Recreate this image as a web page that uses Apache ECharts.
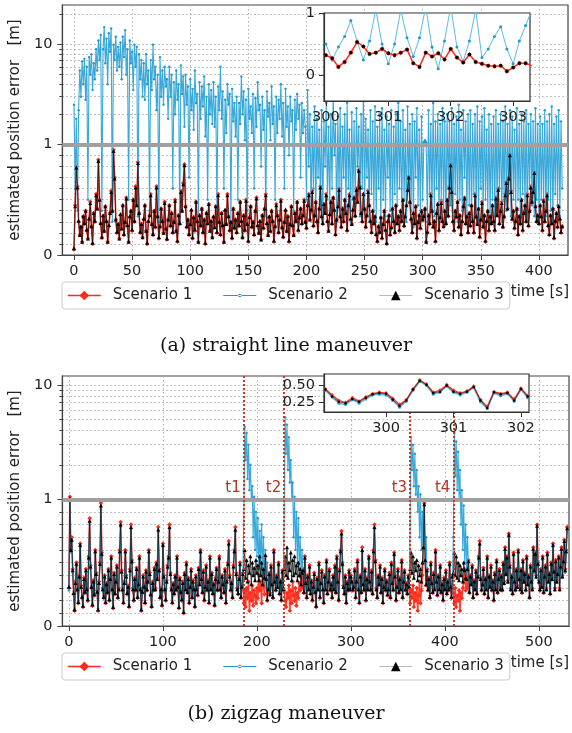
<!DOCTYPE html>
<html><head><meta charset="utf-8">
<script src="https://cdn.jsdelivr.net/npm/echarts@6/dist/echarts.min.js"></script>
<style>html,body{margin:0;padding:0;background:#fff}#c{width:572px;height:733px}</style>
</head><body><div id="c"></div>
<script>
// ---------------- data ----------------
const seriesNames = ['Scenario 1', 'Scenario 2', 'Scenario 3'];

// (a) straight line maneuver, one value per second from t = 0
const topStart = 0, topStep = 1;
const topS1 = [
0.05,0.45,0.80,0.62,0.30,0.18,0.25,0.12,0.35,0.28,0.40,0.22,0.15,0.32,0.48,0.26,0.10,0.38,0.30,0.55,
0.42,0.86,0.50,0.28,0.16,0.35,0.22,0.44,0.30,0.12,0.26,0.38,0.58,0.40,0.95,0.70,0.32,0.20,0.28,0.15,
0.36,0.24,0.45,0.18,0.30,0.52,0.26,0.12,0.34,0.40,0.22,0.50,0.30,0.62,0.45,0.84,0.38,0.20,0.28,0.16,
0.32,0.45,0.22,0.10,0.30,0.36,0.55,0.28,0.18,0.40,0.25,0.62,0.35,0.15,0.26,0.42,0.30,0.20,0.48,0.24,
0.14,0.32,0.45,0.26,0.38,0.20,0.30,0.50,0.22,0.12,0.36,0.28,0.58,0.40,0.65,0.82,0.44,0.25,0.32,0.18,
0.28,0.40,0.15,0.34,0.22,0.48,0.30,0.12,0.36,0.26,0.42,0.20,0.32,0.10,0.38,0.28,0.46,0.22,0.30,0.16,
0.34,0.25,0.44,0.20,0.55,0.30,0.18,0.38,0.26,0.12,0.40,0.28,0.55,0.35,0.22,0.30,0.15,0.42,0.24,0.32,
0.20,0.38,0.26,0.48,0.30,0.16,0.36,0.22,0.50,0.28,0.12,0.34,0.44,0.25,0.30,0.18,0.40,0.52,0.26,0.20,
0.30,0.14,0.36,0.24,0.42,0.55,0.28,0.18,0.34,0.22,0.40,0.30,0.12,0.26,0.46,0.36,0.20,0.32,0.50,0.25,
0.16,0.30,0.40,0.22,0.35,0.12,0.28,0.44,0.26,0.18,0.38,0.30,0.48,0.22,0.34,0.42,0.28,0.36,0.50,0.30,
0.24,0.45,0.55,0.32,0.40,0.58,0.26,0.36,0.48,0.30,0.20,0.42,0.62,0.35,0.28,0.46,0.38,0.55,0.30,0.22,
0.36,0.48,0.28,0.52,0.40,0.18,0.32,0.44,0.60,0.35,0.25,0.42,0.30,0.50,0.38,0.22,0.45,0.55,0.32,0.28,
0.40,0.52,0.35,0.60,0.48,0.77,0.62,0.38,0.30,0.55,0.42,0.25,0.36,0.58,0.45,0.30,0.20,0.40,0.28,0.35,
0.18,0.12,0.26,0.20,0.34,0.15,0.28,0.40,0.22,0.10,0.30,0.36,0.18,0.25,0.42,0.30,0.20,0.45,0.28,0.35,
0.22,0.40,0.30,0.50,0.26,0.35,0.45,0.60,0.71,0.48,0.32,0.20,0.38,0.28,0.44,0.15,0.30,0.36,0.24,0.40,
0.32,0.35,0.42,0.12,0.20,0.36,0.28,0.55,0.40,0.25,0.30,0.12,0.38,0.46,0.22,0.34,0.48,0.30,0.26,0.40,
0.28,0.50,0.35,0.62,0.82,0.58,0.30,0.22,0.40,0.34,0.48,0.25,0.36,0.18,0.30,0.44,0.52,0.28,0.35,0.20,
0.38,0.26,0.45,0.30,0.20,0.55,0.34,0.28,0.42,0.16,0.32,0.48,0.25,0.36,0.12,0.30,0.40,0.22,0.35,0.28,
0.45,0.30,0.22,0.52,0.36,0.60,0.28,0.40,0.48,0.25,0.35,0.55,0.66,0.42,0.70,0.91,0.58,0.32,0.40,0.24,
0.30,0.42,0.18,0.35,0.28,0.50,0.22,0.38,0.45,0.30,0.55,0.26,0.40,0.62,0.48,0.58,0.75,0.44,0.30,0.36,
0.28,0.45,0.35,0.22,0.50,0.30,0.40,0.55,0.26,0.18,0.36,0.28,0.42,0.15,0.30,0.38,0.25,0.44,0.32,0.20,
0.26];
const topS2 = [
2.5,0.6,1.8,0.4,2.2,5.5,3.0,6.8,4.0,7.2,2.8,6.0,0.5,7.5,5.0,8.0,3.5,6.5,4.5,9.0,
5.5,11.0,7.0,12.5,0.4,9.0,15.0,6.5,11.5,4.0,13.0,8.5,14.5,0.3,10.0,7.0,12.0,5.5,9.5,6.0,
10.5,4.5,12.0,7.5,14.0,5.0,9.0,0.5,11.0,6.5,8.5,3.5,10.0,6.0,9.5,0.35,8.0,4.5,7.0,3.0,
6.5,2.8,8.0,4.0,5.5,0.4,7.0,3.5,10.0,4.5,6.0,2.2,5.0,0.3,7.5,3.0,5.5,2.5,6.0,3.8,
4.5,1.8,6.0,3.0,5.0,0.6,4.2,2.0,5.5,2.8,4.0,0.3,6.2,3.2,4.8,1.5,5.0,2.5,3.8,0.7,
4.5,2.2,3.6,1.4,5.5,2.6,3.2,0.35,4.2,1.8,3.8,2.4,4.8,1.2,3.0,0.5,4.0,2.0,3.5,1.6,
4.2,1.5,3.0,0.4,3.8,2.2,6.0,1.8,3.4,0.6,2.8,1.3,4.0,2.5,3.2,0.3,3.6,1.7,2.6,1.2,
3.0,0.5,2.6,1.6,4.8,2.0,3.4,1.1,2.8,0.4,3.6,1.8,2.4,1.3,3.2,0.6,2.9,1.5,4.2,2.2,
2.5,0.8,3.0,1.4,2.2,0.35,3.4,1.9,2.6,1.1,3.8,1.6,2.4,0.5,3.0,1.3,2.8,1.8,4.0,1.2,
2.6,0.6,3.6,1.5,2.4,0.9,3.0,1.7,2.2,0.4,2.8,1.4,3.2,1.8,2.5,0.7,2.6,1.3,2.2,1.5,
0.5,3.5,0.8,2.0,0.4,1.5,0.6,2.4,0.35,1.8,0.7,1.4,0.45,2.2,0.3,1.7,0.8,2.6,0.5,1.5,
0.4,2.0,0.6,3.2,0.9,1.6,0.3,1.9,0.55,2.3,0.35,1.5,0.7,2.0,0.4,2.6,0.6,1.4,0.3,2.1,
0.5,1.7,0.45,2.3,0.8,1.5,0.35,2.0,0.6,3.5,0.4,1.8,0.7,1.4,0.3,2.2,0.55,1.7,0.4,2.4,
0.3,1.5,0.6,2.0,0.25,2.3,0.5,1.4,0.35,1.9,0.7,1.6,0.4,2.2,0.3,1.5,0.55,2.0,0.45,2.6,
0.6,1.7,0.35,2.2,0.5,1.4,0.3,2.4,0.6,1.6,0.4,2.0,0.25,1.7,0.7,2.3,0.45,1.4,0.35,1.9,
0.5,1.05,1.1,1.05,0.3,2.2,0.55,1.6,0.4,2.6,0.35,1.7,0.6,2.0,0.3,1.6,0.5,2.3,0.4,1.7,
0.3,2.0,0.6,1.7,0.45,2.3,0.35,1.6,0.55,1.9,0.3,2.5,0.5,1.4,0.4,2.2,0.7,1.7,0.35,2.0,
0.45,2.2,0.3,1.6,0.55,2.0,0.4,2.4,0.3,1.7,0.6,1.9,0.35,2.3,0.5,1.4,0.4,2.0,0.3,1.6,
0.5,1.9,0.35,2.2,0.45,1.6,0.6,2.0,0.3,1.7,0.5,2.4,0.4,1.6,0.55,2.2,0.35,1.9,0.5,1.4,
0.4,2.3,0.5,1.6,0.35,2.0,0.55,1.7,0.4,2.2,0.3,1.6,0.6,2.0,0.45,1.7,0.35,2.3,0.5,1.6,
0.3,1.9,0.5,1.6,0.45,2.2,0.35,1.7,0.5,2.0,0.4,2.4,0.3,1.6,0.55,1.9,0.45,2.2,0.35,1.7,
0.6];
const topS3 = [
0.06,0.44,0.79,0.61,0.31,0.18,0.26,0.12,0.35,0.29,0.40,0.23,0.15,0.33,0.47,0.26,0.11,0.38,0.31,0.54,
0.42,0.85,0.50,0.29,0.16,0.36,0.22,0.44,0.31,0.12,0.27,0.38,0.57,0.40,0.94,0.69,0.32,0.21,0.28,0.15,
0.37,0.24,0.45,0.19,0.30,0.51,0.27,0.12,0.35,0.40,0.23,0.50,0.31,0.61,0.45,0.83,0.38,0.21,0.28,0.16,
0.33,0.45,0.22,0.11,0.31,0.36,0.54,0.28,0.19,0.40,0.26,0.61,0.35,0.16,0.26,0.42,0.31,0.20,0.47,0.24,
0.15,0.32,0.45,0.27,0.38,0.21,0.30,0.49,0.22,0.13,0.36,0.29,0.57,0.40,0.64,0.81,0.44,0.26,0.32,0.19,
0.28,0.41,0.16,0.34,0.23,0.48,0.31,0.12,0.36,0.27,0.42,0.21,0.32,0.11,0.38,0.29,0.46,0.22,0.31,0.16,
0.35,0.25,0.44,0.21,0.54,0.30,0.19,0.38,0.27,0.12,0.41,0.28,0.54,0.35,0.23,0.30,0.16,0.42,0.25,0.32,
0.21,0.38,0.27,0.48,0.31,0.16,0.36,0.23,0.49,0.28,0.13,0.34,0.44,0.26,0.30,0.19,0.40,0.51,0.27,0.20,
0.31,0.14,0.36,0.25,0.42,0.54,0.29,0.18,0.35,0.22,0.40,0.31,0.13,0.26,0.45,0.36,0.21,0.32,0.49,0.25,
0.17,0.30,0.41,0.22,0.35,0.13,0.28,0.44,0.27,0.18,0.38,0.31,0.48,0.23,0.34,0.42,0.29,0.36,0.49,0.30,
0.25,0.45,0.54,0.32,0.41,0.57,0.27,0.36,0.48,0.31,0.21,0.42,0.61,0.35,0.29,0.46,0.38,0.54,0.31,0.22,
0.37,0.48,0.29,0.52,0.41,0.19,0.32,0.44,0.59,0.35,0.26,0.42,0.31,0.50,0.38,0.23,0.45,0.54,0.33,0.28,
0.41,0.52,0.36,0.59,0.48,0.76,0.61,0.38,0.31,0.55,0.42,0.26,0.36,0.57,0.45,0.31,0.21,0.40,0.29,0.35,
0.19,0.13,0.26,0.21,0.34,0.16,0.28,0.40,0.23,0.11,0.31,0.36,0.19,0.25,0.42,0.31,0.21,0.45,0.29,0.35,
0.23,0.40,0.31,0.50,0.27,0.35,0.45,0.59,0.70,0.48,0.33,0.21,0.38,0.29,0.44,0.16,0.30,0.36,0.25,0.40,
0.32,0.35,0.42,0.12,0.21,0.36,0.29,0.54,0.40,0.26,0.31,0.13,0.38,0.46,0.23,0.34,0.47,0.31,0.26,0.40,
0.29,0.50,0.36,0.61,0.81,0.57,0.31,0.23,0.40,0.35,0.48,0.26,0.36,0.19,0.31,0.44,0.51,0.29,0.35,0.21,
0.38,0.27,0.45,0.31,0.21,0.54,0.35,0.28,0.42,0.17,0.32,0.47,0.26,0.36,0.13,0.31,0.40,0.23,0.35,0.29,
0.45,0.31,0.23,0.51,0.36,0.59,0.29,0.40,0.47,0.26,0.35,0.54,0.65,0.42,0.69,0.90,0.57,0.33,0.40,0.25,
0.31,0.42,0.19,0.35,0.29,0.50,0.23,0.38,0.45,0.31,0.54,0.27,0.40,0.61,0.48,0.57,0.74,0.44,0.31,0.36,
0.29,0.45,0.35,0.23,0.49,0.31,0.40,0.54,0.27,0.19,0.36,0.29,0.42,0.16,0.31,0.38,0.26,0.44,0.33,0.21,
0.26];

// inset of (a): t = 300.0 ... 303.3, every 0.1 s
const topInsetStart = 300.0, topInsetStep = 0.1;
const topInsetS1 = [0.32,0.27,0.13,0.21,0.36,0.53,0.46,0.34,0.36,0.42,0.35,0.32,0.36,0.41,0.19,0.13,0.36,
0.30,0.35,0.25,0.42,0.28,0.20,0.33,0.21,0.18,0.15,0.14,0.15,0.06,0.12,0.19,0.19,0.15];
const topInsetS2 = [0.50,0.24,0.45,0.62,0.88,0.55,0.24,0.55,1.05,0.50,0.18,0.50,1.05,0.60,0.30,0.60,1.10,
0.45,0.10,0.55,1.10,0.45,0.22,0.55,1.05,0.28,0.42,0.62,0.78,0.42,0.18,0.55,0.80,1.05];
const topInsetS3 = [0.32,0.27,0.13,0.21,0.36,0.53,0.46,0.34,0.36,0.42,0.35,0.32,0.36,0.41,0.19,0.13,0.36,
0.30,0.35,0.25,0.42,0.28,0.20,0.33,0.21,0.18,0.15,0.14,0.15,0.06,0.12,0.19,0.19,0.15];

// (b) zigzag maneuver, one value per second from t = 0
const botStart = 0, botStep = 1;
const botS1 = [
0.30,1.05,0.62,0.70,0.45,0.25,0.12,0.35,0.50,0.28,0.18,0.40,0.65,0.32,0.22,0.15,0.38,0.26,0.45,0.30,
0.20,0.55,0.85,0.48,0.30,0.16,0.36,0.24,0.60,0.42,0.28,0.12,0.35,0.50,0.97,0.58,0.30,0.22,0.40,0.18,
0.34,0.26,0.45,0.20,0.38,0.55,0.30,0.14,0.42,0.25,0.36,0.48,0.22,0.30,0.60,0.82,0.44,0.28,0.18,0.35,
0.60,0.40,0.25,0.32,0.15,0.45,0.80,0.52,0.30,0.20,0.38,0.28,0.46,0.22,0.34,0.55,0.30,0.12,0.26,0.40,
0.32,0.18,0.44,0.28,0.36,0.60,0.42,0.24,0.15,0.35,0.28,0.46,0.30,0.50,0.38,0.78,0.45,0.22,0.30,0.16,
0.65,0.40,0.28,0.20,0.36,0.48,0.55,0.80,0.42,0.30,0.18,0.34,0.25,0.40,0.28,0.55,0.32,0.14,0.38,0.26,
0.20,0.35,0.10,0.42,0.30,0.50,0.26,0.38,0.18,0.32,0.45,0.22,0.36,0.28,0.15,0.40,0.30,0.24,0.46,0.34,
0.60,0.38,0.26,0.44,0.20,0.32,0.48,0.28,0.36,0.18,0.55,0.30,0.42,0.25,0.34,0.16,0.38,0.46,0.28,0.36,
0.55,0.30,0.22,0.40,0.34,0.26,0.45,0.18,0.36,0.50,0.67,0.40,0.28,0.35,0.22,0.48,0.60,0.78,0.42,0.30,
0.25,0.38,0.50,0.22,0.32,0.42,0.18,0.28,0.15,0.30,0.22,0.35,0.12,0.26,0.20,0.32,0.16,0.28,0.24,0.18,
0.30,0.22,0.40,0.28,0.35,0.18,0.45,0.32,0.25,0.55,0.38,0.20,0.30,0.42,0.26,0.48,0.34,0.22,0.60,0.36,
0.28,0.40,0.32,0.50,0.25,0.36,0.20,0.44,0.30,0.28,0.20,0.15,0.26,0.22,0.32,0.12,0.28,0.18,0.35,0.24,
0.20,0.30,0.16,0.26,0.22,0.34,0.28,0.38,0.30,0.45,0.26,0.55,0.35,0.22,0.40,0.30,0.48,0.25,0.36,0.20,
0.32,0.42,0.26,0.15,0.38,0.30,0.50,0.22,0.35,0.44,0.28,0.18,0.40,0.30,0.52,0.25,0.36,0.45,0.28,0.34,
0.22,0.40,0.30,0.48,0.26,0.55,0.36,0.20,0.45,0.60,0.75,0.50,0.32,0.25,0.40,0.18,0.35,0.28,0.44,0.30,
0.40,0.35,0.28,0.32,0.45,0.22,0.36,0.52,0.30,0.18,0.40,0.26,0.62,0.34,0.28,0.45,0.20,0.38,0.30,0.55,
0.36,0.28,0.44,0.25,0.60,0.80,0.52,0.30,0.22,0.40,0.34,0.48,0.26,0.38,0.18,0.32,0.45,0.28,0.36,0.24,
0.30,0.42,0.22,0.50,0.35,0.28,0.58,0.40,0.20,0.32,0.45,0.26,0.38,0.30,0.52,0.22,0.36,0.44,0.28,0.34,
0.25,0.40,0.30,0.18,0.28,0.22,0.32,0.15,0.26,0.20,0.30,0.12,0.24,0.35,0.18,0.28,0.40,0.60,0.97,0.50,
0.32,0.45,0.28,0.38,0.22,0.50,0.35,0.26,0.42,0.30,0.60,0.36,0.24,0.40,0.30,0.48,0.26,0.34,0.20,0.38,
0.30,0.44,0.25,0.36,0.28,0.50,0.32,0.22,0.40,0.26,0.18,0.30,0.15,0.24,0.20,0.28,0.12,0.26,0.22,0.30,
0.35,0.45,0.28,0.38,0.30,0.52,0.26,0.40,0.34,0.48,0.22,0.36,0.30,0.44,0.25,0.40,0.55,0.67,0.38,0.28,
0.34,0.46,0.25,0.38,0.30,0.55,0.22,0.40,0.32,0.48,0.28,0.36,0.20,0.42,0.30,0.52,0.26,0.38,0.45,0.30,
0.40,0.28,0.50,0.35,0.62,0.42,0.55,0.36,0.73,0.48,0.30,0.40,0.25,0.58,0.36,0.28,0.45,0.32,0.60,0.38,
0.30,0.45,0.26,0.52,0.36,0.42,0.28,0.55,0.34,0.40,0.22,0.48,0.36,0.30,0.62,0.45,0.58,0.40,0.80,0.50,
0.36,0.28,0.45,0.32,0.55,0.26,0.40,0.48,0.30,0.58,0.36,0.42,0.25,0.50,0.38,0.65,0.44,0.30,0.52,0.36,
0.42,0.55,0.30,0.48,0.62,0.40,0.52,0.68,0.45,0.60,0.78];
const botS2 = [
0.28,1.00,0.58,0.66,0.42,0.27,0.14,0.33,0.47,0.30,0.20,0.37,0.62,0.30,0.24,0.17,0.36,0.28,0.42,0.27,
0.22,0.52,0.80,0.45,0.32,0.18,0.34,0.26,0.57,0.40,0.26,0.14,0.33,0.48,0.92,0.55,0.28,0.24,0.37,0.20,
0.32,0.28,0.42,0.22,0.36,0.52,0.28,0.16,0.40,0.27,0.34,0.45,0.24,0.28,0.57,0.78,0.42,0.30,0.20,0.33,
0.57,0.38,0.27,0.30,0.17,0.42,0.76,0.50,0.28,0.22,0.36,0.30,0.44,0.24,0.32,0.52,0.28,0.14,0.28,0.38,
0.30,0.20,0.42,0.30,0.34,0.57,0.40,0.26,0.17,0.33,0.30,0.44,0.28,0.47,0.36,0.74,0.42,0.24,0.28,0.18,
0.62,0.38,0.30,0.22,0.34,0.45,0.52,0.76,0.40,0.28,0.20,0.32,0.27,0.38,0.30,0.52,0.30,0.16,0.36,0.28,
0.22,0.33,0.12,0.40,0.28,0.47,0.28,0.36,0.20,0.30,0.42,0.24,0.34,0.30,0.17,0.38,0.28,0.26,0.44,0.32,
0.57,0.36,0.28,0.42,0.22,0.30,0.45,0.30,0.34,0.20,0.52,0.28,0.40,0.27,0.32,0.18,0.36,0.44,0.30,0.34,
0.52,0.28,0.24,0.38,0.32,0.28,0.42,0.20,0.34,0.47,0.63,0.38,0.30,0.33,0.24,0.45,0.57,0.74,0.40,0.28,
0.27,0.36,0.47,0.24,0.30,0.40,0.80,4.30,2.20,3.80,1.50,3.00,1.20,2.00,1.00,1.30,0.70,1.05,0.60,0.90,
0.55,0.85,0.45,0.75,0.50,0.80,0.40,0.70,0.35,0.60,0.30,0.50,0.28,0.40,0.24,0.45,0.32,0.24,0.57,0.34,
0.30,0.38,0.30,0.47,0.27,0.34,0.22,0.42,0.28,0.90,5.20,2.50,4.50,1.80,3.50,1.40,2.20,1.00,1.40,0.70,
1.05,0.60,0.90,0.50,0.85,0.45,0.70,0.40,0.60,0.42,0.28,0.52,0.33,0.24,0.38,0.28,0.45,0.27,0.34,0.22,
0.30,0.40,0.28,0.17,0.36,0.28,0.47,0.24,0.33,0.42,0.30,0.20,0.38,0.28,0.50,0.27,0.34,0.42,0.30,0.32,
0.24,0.38,0.28,0.45,0.28,0.52,0.34,0.22,0.42,0.57,0.70,0.47,0.30,0.27,0.38,0.20,0.33,0.30,0.42,0.28,
0.38,0.33,0.30,0.30,0.42,0.24,0.34,0.50,0.28,0.20,0.38,0.28,0.58,0.32,0.30,0.42,0.22,0.36,0.28,0.52,
0.34,0.30,0.42,0.27,0.57,0.76,0.50,0.28,0.24,0.38,0.32,0.45,0.28,0.36,0.20,0.30,0.42,0.30,0.34,0.26,
0.28,0.40,0.24,0.47,0.33,0.30,0.55,0.38,0.22,0.30,0.42,0.28,0.36,0.28,0.50,0.24,0.34,0.42,0.30,0.32,
0.27,0.38,0.32,0.80,3.50,1.80,3.00,1.30,2.50,1.10,1.80,0.90,1.30,0.70,1.10,0.60,0.90,0.50,0.95,0.50,
0.70,0.42,0.30,0.36,0.24,0.47,0.33,0.28,0.40,0.28,0.57,0.34,0.26,0.38,0.28,0.45,0.28,0.32,0.22,0.36,
0.28,0.42,0.27,0.34,0.30,0.47,0.30,0.24,0.38,0.70,3.80,1.60,3.20,1.20,2.60,1.00,1.80,0.80,1.20,0.60,
0.95,0.50,0.80,0.45,0.70,0.50,0.28,0.38,0.32,0.45,0.24,0.34,0.28,0.42,0.27,0.38,0.52,0.63,0.36,0.30,
0.32,0.44,0.27,0.36,0.28,0.52,0.24,0.38,0.30,0.45,0.30,0.34,0.22,0.40,0.28,0.50,0.28,0.36,0.42,0.28,
0.38,0.30,0.47,0.33,0.58,0.40,0.52,0.34,0.70,0.45,0.28,0.38,0.27,0.55,0.34,0.30,0.42,0.30,0.57,0.36,
0.28,0.42,0.28,0.50,0.34,0.40,0.30,0.52,0.32,0.38,0.24,0.45,0.34,0.28,0.58,0.42,0.55,0.38,0.76,0.47,
0.34,0.30,0.42,0.30,0.52,0.28,0.38,0.45,0.28,0.55,0.34,0.40,0.27,0.47,0.36,0.62,0.42,0.28,0.50,0.34,
0.40,0.52,0.28,0.45,0.58,0.38,0.50,0.64,0.42,0.57,0.74];
const botS3 = [
0.31,1.02,0.60,0.68,0.44,0.26,0.13,0.34,0.49,0.29,0.19,0.39,0.64,0.31,0.23,0.16,0.37,0.27,0.44,0.29,
0.21,0.54,0.83,0.47,0.31,0.17,0.35,0.25,0.59,0.41,0.27,0.13,0.34,0.49,0.95,0.57,0.29,0.23,0.39,0.19,
0.33,0.27,0.44,0.21,0.37,0.54,0.29,0.15,0.41,0.26,0.35,0.47,0.23,0.29,0.59,0.80,0.43,0.29,0.19,0.34,
0.59,0.39,0.26,0.31,0.16,0.44,0.78,0.51,0.29,0.21,0.37,0.29,0.45,0.23,0.33,0.54,0.29,0.13,0.27,0.39,
0.31,0.19,0.43,0.29,0.35,0.59,0.41,0.25,0.16,0.34,0.29,0.45,0.29,0.49,0.37,0.76,0.44,0.23,0.29,0.17,
0.64,0.39,0.29,0.21,0.35,0.47,0.54,0.78,0.41,0.29,0.19,0.33,0.26,0.39,0.29,0.54,0.31,0.15,0.37,0.27,
0.21,0.34,0.11,0.41,0.29,0.49,0.27,0.37,0.19,0.31,0.44,0.23,0.35,0.29,0.16,0.39,0.29,0.25,0.45,0.33,
0.59,0.37,0.27,0.43,0.21,0.31,0.47,0.29,0.35,0.19,0.54,0.29,0.41,0.26,0.33,0.17,0.37,0.45,0.29,0.35,
0.54,0.29,0.23,0.39,0.33,0.27,0.44,0.19,0.35,0.49,0.65,0.39,0.29,0.34,0.23,0.47,0.59,0.76,0.41,0.29,
0.26,0.37,0.49,0.23,0.31,0.41,0.45,0.60,0.38,0.52,0.35,0.48,0.42,0.55,0.33,0.50,0.40,0.46,0.36,0.52,
0.42,0.48,0.36,0.55,0.40,0.50,0.33,0.45,0.38,0.56,0.37,0.21,0.29,0.41,0.25,0.47,0.33,0.23,0.59,0.35,
0.29,0.39,0.31,0.49,0.26,0.35,0.21,0.43,0.29,0.45,0.55,0.40,0.62,0.38,0.50,0.44,0.58,0.36,0.52,0.40,
0.55,0.42,0.48,0.36,0.50,0.40,0.45,0.33,0.42,0.44,0.27,0.54,0.34,0.23,0.39,0.29,0.47,0.26,0.35,0.21,
0.31,0.41,0.27,0.16,0.37,0.29,0.49,0.23,0.34,0.43,0.29,0.19,0.39,0.29,0.51,0.26,0.35,0.44,0.29,0.33,
0.23,0.39,0.29,0.47,0.27,0.54,0.35,0.21,0.44,0.59,0.73,0.49,0.31,0.26,0.39,0.19,0.34,0.29,0.43,0.29,
0.39,0.35,0.29,0.31,0.44,0.23,0.35,0.51,0.29,0.19,0.39,0.27,0.60,0.33,0.29,0.44,0.21,0.37,0.29,0.54,
0.35,0.29,0.43,0.26,0.59,0.78,0.51,0.29,0.23,0.39,0.33,0.47,0.27,0.37,0.19,0.31,0.44,0.29,0.35,0.25,
0.29,0.41,0.23,0.49,0.34,0.29,0.57,0.39,0.21,0.31,0.44,0.27,0.37,0.29,0.51,0.23,0.35,0.43,0.29,0.33,
0.26,0.39,0.31,0.45,0.58,0.42,0.55,0.38,0.50,0.44,0.52,0.36,0.48,0.40,0.45,0.35,0.50,0.62,0.96,0.52,
0.33,0.44,0.29,0.37,0.23,0.49,0.34,0.27,0.41,0.29,0.59,0.35,0.25,0.39,0.29,0.47,0.27,0.33,0.21,0.37,
0.29,0.43,0.26,0.35,0.29,0.49,0.31,0.23,0.39,0.42,0.58,0.40,0.55,0.38,0.50,0.36,0.48,0.40,0.45,0.35,
0.50,0.44,0.38,0.37,0.45,0.51,0.27,0.39,0.33,0.47,0.23,0.35,0.29,0.43,0.26,0.39,0.54,0.65,0.37,0.29,
0.33,0.45,0.26,0.37,0.29,0.54,0.23,0.39,0.31,0.47,0.29,0.35,0.21,0.41,0.29,0.51,0.27,0.37,0.44,0.29,
0.39,0.29,0.49,0.34,0.61,0.41,0.54,0.35,0.72,0.47,0.29,0.39,0.26,0.57,0.35,0.29,0.44,0.31,0.59,0.37,
0.29,0.44,0.27,0.51,0.35,0.41,0.29,0.54,0.33,0.39,0.23,0.47,0.35,0.29,0.61,0.44,0.57,0.39,0.79,0.49,
0.35,0.29,0.44,0.31,0.54,0.27,0.39,0.47,0.29,0.57,0.35,0.41,0.26,0.49,0.37,0.64,0.43,0.29,0.51,0.35,
0.41,0.54,0.29,0.47,0.61,0.39,0.51,0.67,0.44,0.59,0.77];

// inset of (b): t = 299.1 ... 302.1, every 0.1 s
const botInsetStart = 299.1, botInsetStep = 0.1;
const botInsetS1 = [0.44,0.35,0.27,0.24,0.31,0.26,0.32,0.37,0.39,0.38,0.30,0.21,0.28,0.44,0.57,0.51,
0.39,0.42,0.50,0.42,0.38,0.41,0.48,0.28,0.18,0.40,0.37,0.39,0.29,0.45,0.34];
const botInsetS2 = [0.42,0.32,0.23,0.21,0.28,0.23,0.29,0.35,0.36,0.35,0.27,0.17,0.26,0.42,0.55,0.49,
0.36,0.39,0.48,0.39,0.35,0.39,0.46,0.25,0.15,0.38,0.34,0.37,0.26,0.43,0.31];
const botInsetS3 = [0.43,0.33,0.25,0.23,0.29,0.25,0.31,0.36,0.38,0.37,0.28,0.19,0.27,0.43,0.56,0.50,
0.38,0.40,0.49,0.40,0.37,0.40,0.47,0.27,0.16,0.39,0.36,0.38,0.27,0.44,0.33];

// events in (b)
const eventTimes = [186, 229, 363, 409];
const eventLabels = ['t1', 't2', 't3', 't4'];

// tick values
const topXTicks = [0, 50, 100, 150, 200, 250, 300, 350, 400];
const botXTicks = [0, 100, 200, 300, 400, 500];
const yMajor = [0, 1, 10];
const yMinorTop = [0.1,0.2,0.3,0.4,0.5,0.6,0.7,0.8,0.9,2,3,4,5,6,7,8,9,20];
const yMinorBot = [0.1,0.2,0.3,0.4,0.5,0.6,0.7,0.8,0.9,2,3,4,5,6,7,8,9];
const topInsetXTicks = [300, 301, 302, 303];
const topInsetYTicks = [0, 1];
const botInsetXTicks = [300, 301, 302];
const botInsetYTicks = [0.25, 0.50];

// ---------------- scale: symmetric-log (linear below 1, log above) ----------------
const LINSCALE = 1 / (1 - 1 / 10);
function T(v) { return v <= 1 ? v * LINSCALE : LINSCALE + Math.log10(v); }
const pts = (arr, t0, step, f) => arr.map((v, i) => [+(t0 + i * step).toFixed(3), f ? f(v) : v]);
const yLabel = v => { const m = yMajor.find(m => Math.abs(T(m) - v) < 1e-6); return m === undefined ? '' : String(m); };

// ---------------- styles ----------------
const FONT = 'DejaVu Sans';
const tickFont = { fontFamily: FONT, fontSize: 14.5, color: '#222' };
const dotted = { show: true, lineStyle: { color: '#b0b0b0', type: [1.5, 2.5], width: 1 } };
const axisCol = '#444';
const RED = '#ff2a1a', BLUE = '#1d9bd1', BLUE_L = '#3aa9da';

function mainX(gi, min, max, ticks) {
  return { type: 'value', gridIndex: gi, min, max,
    axisLine: { show: true, onZero: false, lineStyle: { color: axisCol, width: 1.2 } },
    axisTick: { show: true, length: 5, customValues: ticks, lineStyle: { color: axisCol } },
    axisLabel: Object.assign({ customValues: ticks, margin: 9 }, tickFont),
    splitLine: dotted };
}
function mainY(gi, max) {
  const maj = yMajor.map(T);
  return { type: 'value', gridIndex: gi, min: 0, max: T(max),
    name: 'estimated position error   [m]', nameLocation: 'middle', nameGap: 37, nameRotate: 90,
    nameTextStyle: { fontFamily: FONT, fontSize: 15, color: '#222' },
    axisLine: { show: true, onZero: false, lineStyle: { color: axisCol, width: 1.2 } },
    axisTick: { show: true, length: 5, customValues: maj, lineStyle: { color: axisCol } },
    axisLabel: Object.assign({ customValues: maj, margin: 10, formatter: yLabel }, tickFont),
    splitLine: dotted };
}
function minorY(gi, max, minors) {
  return { type: 'value', gridIndex: gi, min: 0, max: T(max), position: 'left',
    axisLine: { show: false, onZero: false },
    axisTick: { show: true, length: 3, customValues: minors.map(T), lineStyle: { color: axisCol } },
    axisLabel: { show: false }, splitLine: dotted };
}
function insetX(gi, min, max, ticks) {
  return { type: 'value', gridIndex: gi, min, max, z: 11,
    axisLine: { show: true, onZero: false, lineStyle: { color: '#333', width: 1.2 } },
    axisTick: { show: true, length: 5, customValues: ticks, lineStyle: { color: '#333' } },
    axisLabel: Object.assign({ customValues: ticks, margin: 9 }, tickFont),
    splitLine: { show: false } };
}
function insetY(gi, min, max, ticks, fmt) {
  return { type: 'value', gridIndex: gi, min, max, z: 11,
    axisLine: { show: true, onZero: false, lineStyle: { color: '#333', width: 1.2 } },
    axisTick: { show: true, length: 5, customValues: ticks, lineStyle: { color: '#333' } },
    axisLabel: Object.assign({ customValues: ticks, margin: 9, formatter: fmt }, tickFont),
    splitLine: { show: false } };
}
const style = [
  { symbol: 'diamond', symbolSize: 4.5, itemStyle: { color: RED }, lineStyle: { color: RED, width: 1.6, opacity: 0.9 } },
  { symbol: 'circle', symbolSize: 2.4, itemStyle: { color: BLUE }, lineStyle: { color: BLUE_L, width: 1.1 } },
  { symbol: 'triangle', symbolSize: 4, itemStyle: { color: '#000' }, lineStyle: { color: '#111', width: 1.0, type: 'solid', opacity: 0.75 } }
];
function ser(k, data, xi, yi, z, extra) {
  return Object.assign({ type: 'line', name: seriesNames[k], data, xAxisIndex: xi, yAxisIndex: yi, z,
    showSymbol: true, showAllSymbol: true, clip: true, silent: true, emphasis: { disabled: true },
    animation: false }, style[k], extra || {});
}
const greyOne = { yAxis: T(1), lineStyle: { color: '#a0a0a0', width: 4, type: 'solid' } };

const series = [
  // (a)
  ser(0, pts(topS1, topStart, topStep, T), 0, 0, 2),
  ser(1, pts(topS2, topStart, topStep, T), 0, 0, 3),
  ser(2, pts(topS3, topStart, topStep, T), 0, 0, 4, {
    markLine: { silent: true, symbol: 'none', animation: false, label: { show: false }, data: [greyOne] } }),
  // (b)
  ser(0, pts(botS1, botStart, botStep, T), 1, 2, 2),
  ser(1, pts(botS2, botStart, botStep, T), 1, 2, 3),
  ser(2, pts(botS3, botStart, botStep, T), 1, 2, 4, {
    markLine: { silent: true, symbol: 'none', animation: false, label: { show: false },
      data: [greyOne].concat(eventTimes.map(t => ({ xAxis: t, lineStyle: { color: '#c0392b', width: 2, type: [2, 2] } }))) },
    markPoint: { silent: true, animation: false, symbol: 'circle', symbolSize: 0,
      label: { show: true, position: 'left', distance: 3, formatter: '{b}', color: '#b5342a', fontFamily: FONT, fontSize: 15 },
      data: eventTimes.map((t, i) => ({ name: eventLabels[i], coord: [t, T(1.25)] })) } }),
  // insets
  ser(1, pts(topInsetS2, topInsetStart, topInsetStep), 2, 4, 12, { symbolSize: 3, lineStyle: { color: '#5cb9e2', width: 1 } }),
  ser(0, pts(topInsetS1, topInsetStart, topInsetStep), 2, 4, 13, { symbolSize: 5, lineStyle: { color: RED, width: 1.5 } }),
  ser(2, pts(topInsetS3, topInsetStart, topInsetStep), 2, 4, 14, { symbol: 'rect', symbolSize: 3, lineStyle: { opacity: 0 } }),
  ser(1, pts(botInsetS2, botInsetStart, botInsetStep), 3, 5, 12, { symbolSize: 3, lineStyle: { color: '#5cb9e2', width: 1.5 } }),
  ser(0, pts(botInsetS1, botInsetStart, botInsetStep), 3, 5, 13, { symbolSize: 4, lineStyle: { color: RED, width: 1.2 } }),
  ser(2, pts(botInsetS3, botInsetStart, botInsetStep), 3, 5, 14, { symbol: 'circle', symbolSize: 2.5, lineStyle: { color: '#333', width: 0.8, type: 'solid' } })
];

const blueIcon = 'path://M0,0h0.01v0.01h-0.01z M0,5.6h33v0.8h-33z M14.7,6a1.8,1.8 0 1 0 3.6,0a1.8,1.8 0 1 0 -3.6,0z M32.99,11.99h0.01v0.01h-0.01z';
function legendAt(top) {
  return { top, left: 62, orient: 'horizontal', itemWidth: 33, itemHeight: 12, itemGap: 31,
    padding: [6, 6, 6, 5], borderColor: '#ccc', borderWidth: 1, borderRadius: 3, selectedMode: false,
    textStyle: { fontFamily: FONT, fontSize: 15, color: '#222', padding: [0, 0, 0, 7] },
    data: [{ name: seriesNames[0], lineStyle: { width: 1.5, opacity: 1 } },
      { name: seriesNames[1], icon: blueIcon, itemStyle: { color: BLUE } },
      { name: seriesNames[2], lineStyle: { color: '#bbb', type: 'solid', opacity: 1, width: 1 } }] };
}
const capStyle = { fontFamily: 'DejaVu Serif', fontSize: 19, fontWeight: 'normal', color: '#111' };
const nameStyle = { fontFamily: FONT, fontSize: 15, fontWeight: 'normal', color: '#222' };

const option = {
  animation: false,
  backgroundColor: '#fff',
  title: [
    { text: '(a) straight line maneuver', left: 'center', top: 337, padding: 0, textStyle: capStyle },
    { text: '(b) zigzag maneuver', left: 'center', top: 705, padding: 0, textStyle: capStyle },
    { text: 'time [s]', right: 3, top: 285, padding: 0, textStyle: nameStyle },
    { text: 'time [s]', right: 3, top: 656, padding: 0, textStyle: nameStyle }
  ],
  legend: [legendAt(282), legendAt(653)],
  grid: [
    { left: 60, top: 5, width: 508, height: 250, show: true, borderColor: axisCol, borderWidth: 1.2, backgroundColor: 'transparent' },
    { left: 60, top: 376, width: 509, height: 250, show: true, borderColor: axisCol, borderWidth: 1.2, backgroundColor: 'transparent' },
    { left: 324, top: 13, width: 206, height: 88, show: true, borderColor: '#333', borderWidth: 1.2, backgroundColor: '#fff', z: 10 },
    { left: 324, top: 374, width: 205, height: 38, show: true, borderColor: '#333', borderWidth: 1.2, backgroundColor: '#fff', z: 10 }
  ],
  xAxis: [
    mainX(0, -10, 425, topXTicks),
    mainX(1, -7, 532, botXTicks),
    insetX(2, 299.97, 303.27, topInsetXTicks),
    insetX(3, 299.08, 302.12, botInsetXTicks)
  ],
  yAxis: [
    mainY(0, 25), minorY(0, 25, yMinorTop),
    mainY(1, 12), minorY(1, 12, yMinorBot),
    insetY(2, -0.42, 1, topInsetYTicks, v => String(v)),
    insetY(3, 0.10, 0.66, botInsetYTicks, v => v.toFixed(2))
  ],
  series
};
const chart = echarts.init(document.getElementById('c'), null, { renderer: 'canvas' });
chart.setOption(option);
</script>
</body></html>
